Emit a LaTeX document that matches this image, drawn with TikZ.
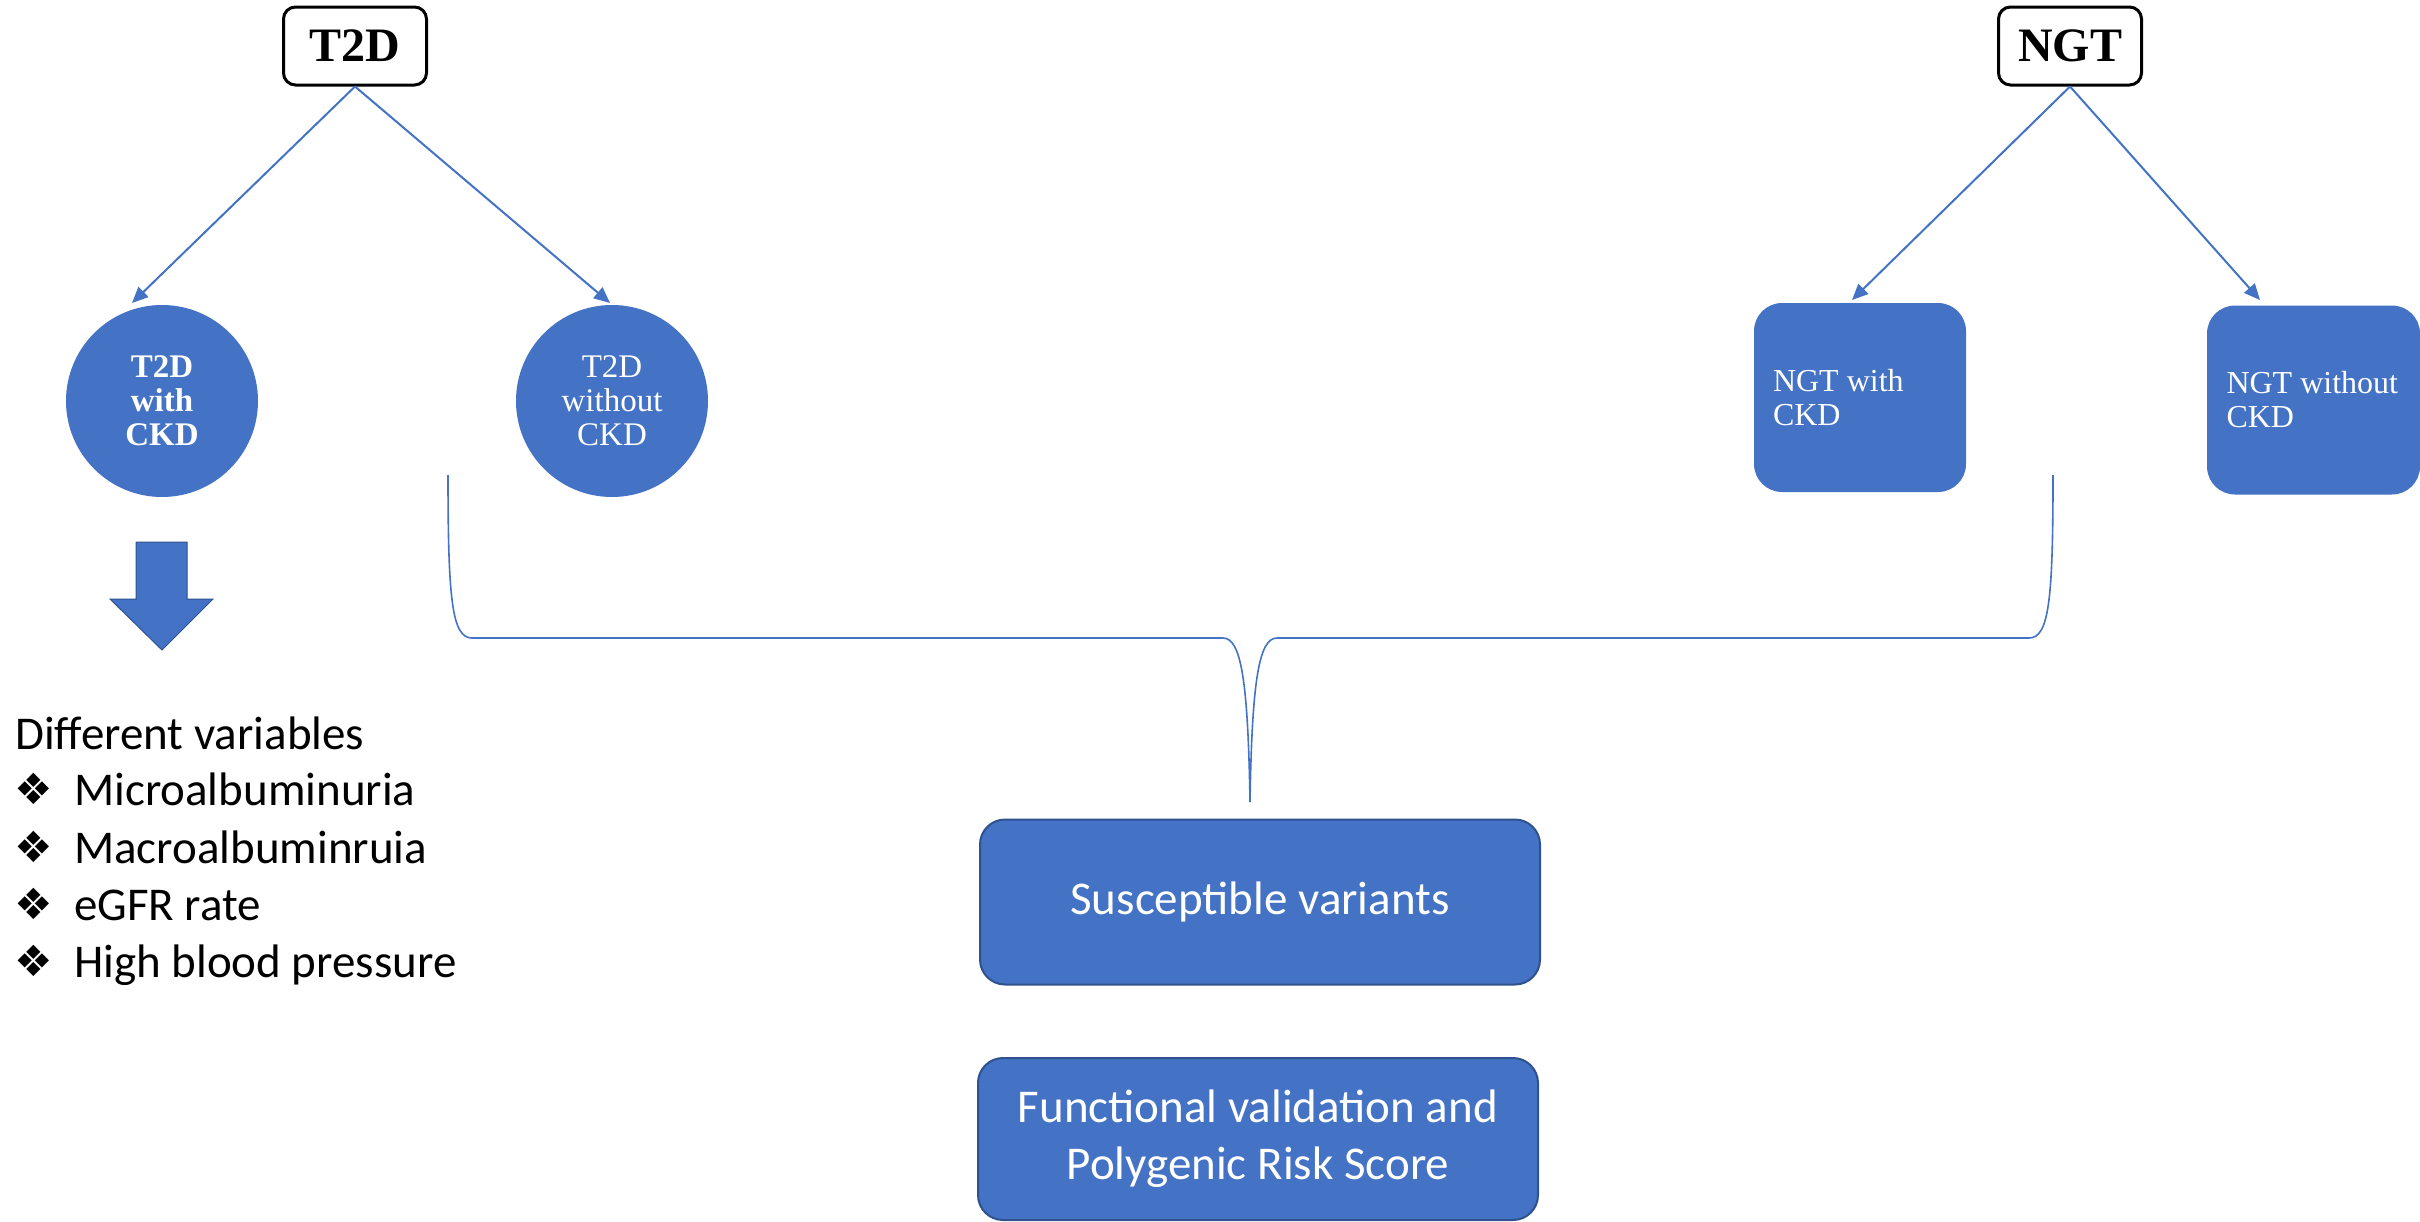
\documentclass[tikz,border=0pt]{standalone}
\usepackage{fontspec}
\setmainfont{Liberation Serif}
\newfontfamily\carl{Carlito}
\newfontfamily\djv{DejaVu Sans}
\usetikzlibrary{arrows.meta}
\definecolor{oblue}{HTML}{4472C4}
\definecolor{dblue}{HTML}{2F528F}
\begin{document}
\begin{tikzpicture}[x=1pt,y=-1pt,
  topbox/.style={draw=black, line width=3pt, rounded corners=12pt, fill=white,
    minimum width=143pt, minimum height=78pt, inner sep=0pt,
    font=\fontsize{48}{50}\selectfont\bfseries},
  circ/.style={circle, fill=oblue, minimum size=192pt, inner sep=0pt, text=white,
    align=center, font=\fontsize{33}{34}\selectfont},
  ngtbox/.style={rectangle, rounded corners=28pt, fill=oblue, minimum width=212pt,
    minimum height=189pt, text=white, text width=182pt, align=flush left, inner xsep=15pt,
    font=\fontsize{32}{34}\selectfont},
  conn/.style={oblue, line width=2pt, -{Triangle[length=16pt,width=14pt]}},
  brace/.style={oblue, line width=1.6pt},
  lst/.style={inner sep=0pt, font=\carl\fontsize{47}{57}\selectfont},
  bul/.style={inner sep=0pt, font=\djv\fontsize{43}{43}\selectfont},
  bbox/.style={rectangle, rounded corners=25pt, fill=oblue, draw=dblue, line width=2pt,
    minimum width=560pt, minimum height=165pt, text=white, align=center,
    font=\carl\fontsize{47}{57}\selectfont}]
\useasboundingbox (0,0) rectangle (2420,1221);
\fill[white] (0,0) rectangle (2420,1221);

% top boxes
\node[topbox] (t2d) at (355,46) {T2D};
\node[topbox] (ngt) at (2070,46) {NGT};

% T2D children
\node[circ] (c1) at (162,401) {\bfseries T2D\\\bfseries with\\\bfseries CKD};
\node[circ] (c2) at (612,401) {T2D\\without\\CKD};

% NGT children
\node[ngtbox] (n1) at (1860,397.5) {\hspace*{4pt}NGT with\\\hspace*{4pt}CKD};
\node[ngtbox, minimum width=213pt] (n2) at (2313.5,400) {\hspace*{4pt}NGT without\\\hspace*{4pt}CKD};

% connectors
\coordinate (a1) at (132,303);
\coordinate (a2) at (610,303);
\coordinate (a3) at (1852,300);
\coordinate (a4) at (2260,300);
\draw[conn] (t2d.south) -- (a1);
\draw[conn] (t2d.south) -- (a2);
\draw[conn] (ngt.south) -- (a3);
\draw[conn] (ngt.south) -- (a4);

% block arrow
\filldraw[fill=oblue, draw=dblue, line width=1pt]
  (136,542) -- (187,542) -- (187,599) -- (213,599) -- (162,650) -- (110,599) -- (136,599) -- cycle;

% list
\node[lst, anchor=base west] (dv) at (15,749) {Different variables};
\node[bul, anchor=base west] (b1) at (14,804) {❖};
\node[bul, anchor=base west] (b2) at (14,862) {❖};
\node[bul, anchor=base west] (b3) at (14,919) {❖};
\node[bul, anchor=base west] (b4) at (14,976) {❖};
\node[lst, anchor=base west] (l1) at (74,805) {Microalbuminuria};
\node[lst, anchor=base west] (l2) at (74,863) {Macroalbuminruia};
\node[lst, anchor=base west] (l3) at (74,920) {eGFR rate};
\node[lst, anchor=base west] (l4) at (74,977) {High blood pressure};

% brace
\coordinate (brL) at (448,475);
\coordinate (brM) at (1250,802);
\coordinate (brR) at (2053,475);
\draw[brace] (brL) .. controls (448,600) and (452,638) .. (472,638) -- (1223,638)
  .. controls (1241,638) and (1248,680) .. (brM)
  .. controls (1252,680) and (1259,638) .. (1277,638) -- (2029,638)
  .. controls (2049,638) and (2053,600) .. (brR);

% bottom boxes
\node[bbox] (sv) at (1260,902) {Susceptible variants};
\node[bbox, minimum height=162pt] (fv) at (1258,1139) {Functional validation and\\Polygenic Risk Score};
\end{tikzpicture}
\end{document}
